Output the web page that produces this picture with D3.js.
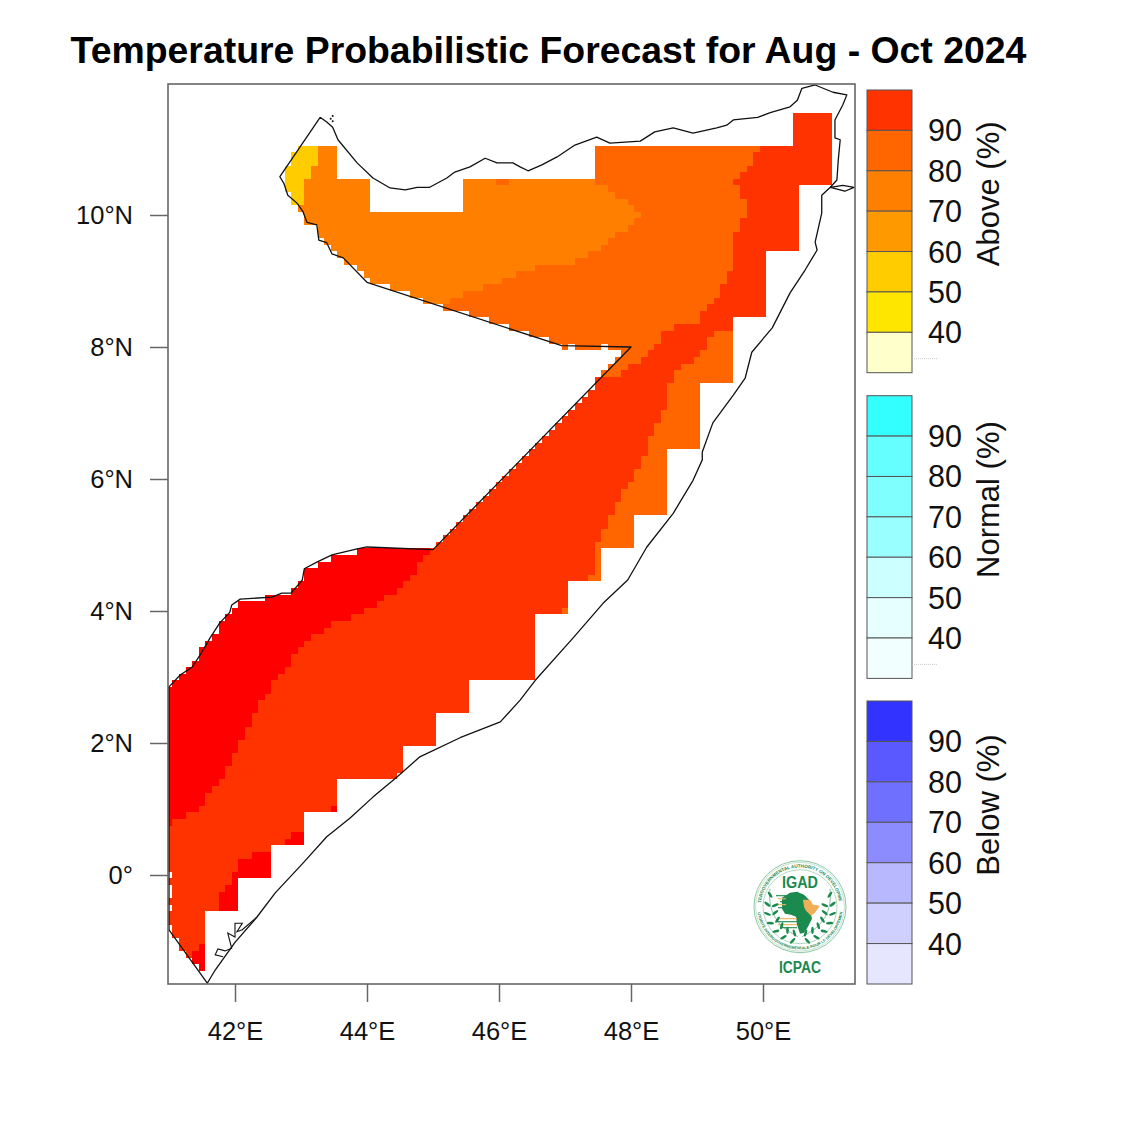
<!DOCTYPE html>
<html><head><meta charset="utf-8">
<script src="https://cdn.jsdelivr.net/npm/d3@7"></script>
<style>html,body{margin:0;padding:0;background:#fff}svg{display:block}text{font-family:"Liberation Sans",Arial,sans-serif}</style>
</head><body><div id="chart"></div>
<script>
const titleText = "Temperature Probabilistic Forecast for Aug - Oct 2024";
const lonTicks = [42,44,46,48,50];
const latTicks = [0,2,4,6,8,10];
const legendLabels = [90,80,70,60,50,40];
const aboveColors = ["#FF3300","#FF6600","#FF8000","#FF9900","#FFCC00","#FFE600","#FFFFCC"];
const normalColors = ["#33FFFF","#66FFFF","#80FFFF","#99FFFF","#CCFFFF","#E6FFFF","#F2FFFF"];
const belowColors = ["#3333FF","#5959FF","#7070FF","#8C8CFF","#B8B8FF","#D0D0FF","#E6E6FF"];
const cellValues = [55,75,85,95,100];
const cellColors = ["#FFCC00","#FF8000","#FF6600","#FF3300","#FF0000"];
// grid: 0.1 degree; column 0 begins at 40.95E, row 0 begins at 11.55N
// each row: column, value, column, value, ... column (value 0 = no data)
const forecastRows = [
[95,95,101],[95,95,101],[95,95,101],[95,95,101],[95,95,101],
[20,55,23,75,26,0,65,85,90,95,101],
[19,55,23,75,26,0,65,85,89,95,101],
[19,55,23,75,26,0,65,85,89,95,101],
[18,55,22,75,26,0,65,85,88,95,101],
[18,55,22,75,26,0,65,85,87,95,101],
[18,55,21,75,31,0,45,75,50,85,52,75,65,85,86,95,101],
[18,55,21,75,31,0,45,75,67,85,87,95,96],
[19,55,21,75,31,0,45,75,68,85,87,95,96],
[19,55,21,75,31,0,45,75,70,85,88,95,96],
[20,75,31,0,45,75,71,85,88,95,96],
[21,75,72,85,88,95,96],
[21,75,71,85,87,95,96],
[23,75,70,85,87,95,96],
[23,75,68,85,86,95,96],
[24,75,67,85,86,95,96],
[25,75,66,85,86,95,96],
[26,75,64,85,86,95,91],
[27,75,62,85,86,95,91],
[29,75,56,85,86,95,91],
[30,75,53,85,85,95,91],
[31,75,51,85,85,95,91],
[34,75,48,85,84,95,91],
[37,75,45,85,84,95,91],
[39,75,43,85,83,95,91],
[42,85,82,95,91],
[46,85,81,95,91],
[49,85,81,95,86],
[52,85,77,95,86],
[55,85,75,95,83,85,86],
[58,85,75,95,82,85,86],
[60,85,61,0,62,85,66,0,67,85,74,95,82,85,86],
[69,85,73,95,81,85,86],
[68,85,72,95,80,85,86],
[67,85,70,95,78,85,86],
[66,85,69,95,77,85,86],
[65,95,77,85,86],
[65,95,76,85,81],[64,95,76,85,81],[63,95,76,85,81],[62,95,76,85,81],
[61,95,75,85,81],[60,95,75,85,81],[59,95,74,85,81],[58,95,74,85,81],
[57,95,73,85,81],[56,95,73,85,81],
[55,95,73,85,76],[54,95,72,85,76],[53,95,72,85,76],[52,95,71,85,76],[51,95,71,85,76],
[50,95,70,85,76],[49,95,69,85,76],[48,95,69,85,76],[47,95,68,85,76],[46,95,68,85,76],
[45,95,67,85,71],[44,95,67,85,71],[43,95,66,85,71],[42,95,66,85,71],[41,95,65,85,71],
[29,100,40,95,65,85,66],
[25,100,39,95,65,85,66],
[23,100,38,95,65,85,66],
[21,100,38,95,65,85,66],
[21,100,37,95,64,85,66],
[20,100,36,95,61],
[19,100,35,95,61],
[15,100,33,95,61],
[11,100,32,95,61],
[10,100,30,95,60,85,61],
[9,100,28,95,56],[8,100,25,95,56],[8,100,24,95,56],[7,100,22,95,56],[6,100,21,95,56],
[5,100,20,95,56],[5,100,19,95,56],[4,100,19,95,56],[3,100,18,95,56],[2,100,17,95,56],
[1,100,16,95,46],[0,100,16,95,46],[0,100,15,95,46],[0,100,14,95,46],[0,100,14,95,46],
[0,100,13,95,41],[0,100,13,95,41],[0,100,12,95,41],[0,100,12,95,41],[0,100,11,95,41],
[0,100,11,95,36],[0,100,10,95,36],[0,100,10,95,36],[0,100,9,95,36],[0,100,9,95,35],
[0,100,8,95,26],[0,100,7,95,26],[0,100,6,95,26],[0,100,6,95,26],[0,100,5,95,25,100,26],
[0,100,3,95,21],[0,100,1,95,21],[0,95,21],[0,95,19,100,21],[0,95,18,100,21],
[0,95,16],[0,95,13,100,16],[0,95,11,100,16],[0,95,11,100,16],[1,95,10,100,16],
[0,95,10,100,11],[1,95,9,100,11],[1,95,8,100,11],[0,95,8,100,11],[1,95,8,100,11],
[0,95,6],[0,95,6],[1,95,6],[1,95,6],[2,95,6],
[2,95,5,100,6],[3,95,4,100,6],[4,100,6],[5,100,6]
];
const somaliaOutline = [
[43.29,11.48],[42.68,10.58],[42.74,10.48],[42.80,10.30],[42.94,10.18],[43.03,10.05],[43.09,9.89],[43.24,9.85],[43.27,9.62],[43.39,9.58],[43.47,9.41],[43.64,9.35],[44.00,8.98],
[46.95,8.02],[48.00,8.00],[45.00,4.93],[44.00,4.97],[43.85,4.94],[43.47,4.85],[43.24,4.74],[43.05,4.64],[43.02,4.47],[42.85,4.27],[42.71,4.27],[42.56,4.21],[42.08,4.18],[41.95,4.09],[41.92,3.98],[41.77,3.82],[41.62,3.59],[41.47,3.33],[41.35,3.15],[41.17,3.03],[41.00,2.85],
[41.00,-0.83],[41.58,-1.64],[41.70,-1.44],[42.00,-1.02],[42.33,-0.64],[42.61,-0.27],[43.03,0.18],[43.39,0.58],[43.74,0.86],[44.09,1.18],[44.45,1.48],[44.80,1.79],[45.41,2.08],[46.02,2.32],[46.32,2.65],[46.55,2.95],[47.12,3.59],[47.58,4.12],[47.95,4.47],[48.24,4.97],[48.64,5.48],[48.94,5.98],[49.08,6.29],[49.08,6.41],[49.24,6.85],[49.55,7.27],[49.73,7.53],[49.83,7.92],[50.14,8.29],[50.41,8.82],[50.64,9.17],[50.82,9.47],[50.79,9.59],[50.89,10.03],[50.89,10.30],[51.02,10.42],
[51.21,10.45],[51.38,10.42],[51.24,10.36],[51.02,10.42],[51.12,10.53],[51.14,10.83],[51.17,11.14],[51.09,11.17],[51.09,11.44],[51.21,11.67],[51.27,11.82],[51.06,11.86],[50.79,11.97],[50.59,11.92],[50.52,11.74],[50.41,11.64],[50.11,11.55],[49.92,11.48],[49.55,11.44],[49.45,11.36],[49.30,11.32],[48.94,11.24],[48.64,11.32],[48.36,11.26],[48.14,11.12],[47.68,11.09],[47.48,11.18],[47.15,11.06],[46.88,10.88],[46.65,10.76],[46.44,10.67],[46.32,10.73],[46.21,10.79],[45.97,10.79],[45.79,10.86],[45.56,10.73],[45.33,10.65],[45.21,10.56],[44.95,10.42],[44.76,10.42],[44.58,10.38],[44.35,10.41],[44.09,10.56],[43.85,10.79],[43.56,11.14],[43.48,11.33],[43.39,11.41],[43.29,11.48]
];
const bajuniIslands = [[41.82,-1.24],[41.70,-1.21],[41.74,-1.12],[41.85,-1.15],[41.95,-1.11],[41.89,-0.88],[42.00,-0.94],[42.00,-0.73],[42.11,-0.73],[42.03,-0.86],[42.11,-0.83],[42.33,-0.64]];
const northIslets = [[43.48,11.50],[43.48,11.42],[43.45,11.46]];

const W=1125,H=1125;
const svg=d3.select("#chart").append("svg").attr("width",W).attr("height",H);
const x=d3.scaleLinear().domain([42,50]).range([235,763]);
const y=d3.scaleLinear().domain([0,10]).range([875,215]);
const frame={l:168,r:855,t:84,b:984};
const color=d3.scaleOrdinal().domain(cellValues).range(cellColors);

svg.append("text").attr("x",548.5).attr("y",63).attr("text-anchor","middle").attr("font-weight","bold").attr("font-size",37.4).attr("fill","#000").text(titleText);

svg.append("clipPath").attr("id","mapclip").append("rect").attr("x",frame.l).attr("y",frame.t).attr("width",frame.r-frame.l).attr("height",frame.b-frame.t);
const map=svg.append("g").attr("clip-path","url(#mapclip)");
const runs=[];
forecastRows.forEach((row,j)=>{for(let k=0;k+2<row.length;k+=2){if(row[k+1]>0)runs.push({j,a:row[k],v:row[k+1],b:row[k+2]});}});
const lonOf=i=>40.95+0.1*i, latOf=j=>11.55-0.1*j;
map.selectAll("rect.cell").data(runs).join("rect").attr("class","cell")
 .attr("x",d=>x(lonOf(d.a))).attr("width",d=>x(lonOf(d.b))-x(lonOf(d.a)))
 .attr("y",d=>y(latOf(d.j))).attr("height",d=>y(latOf(d.j+1))-y(latOf(d.j)))
 .attr("fill",d=>color(d.v)).attr("shape-rendering","crispEdges");
const line=d3.line().x(d=>x(d[0])).y(d=>y(d[1]));
map.append("path").attr("d",line(somaliaOutline)).attr("fill","none").attr("stroke","#111").attr("stroke-width",1.3).attr("stroke-linejoin","round");
map.append("path").attr("d",line(bajuniIslands)).attr("fill","none").attr("stroke","#111").attr("stroke-width",1.1);
map.selectAll("circle.islet").data(northIslets).join("circle").attr("class","islet").attr("cx",d=>x(d[0])).attr("cy",d=>y(d[1])).attr("r",1).attr("fill","#111");

const axStyle=g=>{g.select(".domain").remove();g.selectAll(".tick line").attr("stroke","#666").attr("stroke-width",1.5);g.selectAll("text").attr("font-size",25.5).attr("fill","#111").attr("font-family","Liberation Sans");};
svg.append("g").attr("transform",`translate(${frame.l},0)`).call(d3.axisLeft(y).tickValues(latTicks).tickSize(18).tickPadding(17).tickFormat(d=>d===0?"0°":d+"°N")).call(axStyle);
svg.append("g").attr("transform",`translate(0,${frame.b})`).call(d3.axisBottom(x).tickValues(lonTicks).tickSize(18).tickPadding(20).tickFormat(d=>d+"°E")).call(axStyle);
svg.append("rect").attr("x",frame.l).attr("y",frame.t).attr("width",frame.r-frame.l).attr("height",frame.b-frame.t).attr("fill","none").attr("stroke","#666").attr("stroke-width",1.6);

function legend(colors,title,top,bottom,mark){
 const band=d3.scaleBand().domain(d3.range(colors.length)).range([top,bottom]);
 const g=svg.append("g");
 g.selectAll("rect").data(colors).join("rect").attr("x",867).attr("width",45).attr("y",(d,i)=>band(i)).attr("height",band.bandwidth()).attr("fill",d=>d).attr("stroke","#555").attr("stroke-width",1);
 g.selectAll("text.l").data(legendLabels).join("text").attr("class","l").attr("x",928).attr("y",(d,i)=>band(i+1)+11).attr("font-size",30.5).attr("fill","#111").text(d=>d);
 g.append("text").attr("transform",`translate(999,${(top+bottom)/2-37.5}) rotate(-90)`).attr("text-anchor","middle").attr("font-size",31).attr("fill","#111").text(title);
 if(mark) g.append("line").attr("x1",912).attr("x2",937).attr("y1",bottom-14).attr("y2",bottom-14).attr("stroke","#bbb").attr("stroke-width",0.8).attr("stroke-dasharray","1 1");
}
legend(aboveColors,"Above (%)",90,372.7,true);
legend(normalColors,"Normal (%)",395.7,678.4,true);
legend(belowColors,"Below (%)",701,984,false);

// ICPAC logo
const lg=svg.append("g").attr("transform","translate(800,906.7)");
const gc="#1A8A4E", ring="#8CC7A3", or="#F0AE56";
lg.append("circle").attr("r",46).attr("fill","#fff").attr("stroke",ring).attr("stroke-width",1);
lg.append("circle").attr("r",44.4).attr("fill","none").attr("stroke",ring).attr("stroke-width",.5);
lg.append("circle").attr("r",37).attr("fill","none").attr("stroke",ring).attr("stroke-width",.7);
const defs=svg.append("defs");
defs.append("path").attr("id","arcTop").attr("d","M-39,-4 A39.2,39.2 0 0 1 39,-4");
defs.append("path").attr("id","arcBot").attr("d","M-42.5,5 A42.8,42.8 0 0 0 42.5,5");
lg.append("text").attr("font-size",4.6).attr("font-weight","bold").attr("fill",gc).attr("text-anchor","middle").append("textPath").attr("href","#arcTop").attr("startOffset","50%").text("INTERGOVERNMENTAL AUTHORITY ON DEVELOPMENT");
lg.append("text").attr("font-size",3.9).attr("font-weight","bold").attr("fill",gc).attr("text-anchor","middle").append("textPath").attr("href","#arcBot").attr("startOffset","50%").text("AUTORITÉ INTERGOUVERNEMENTALE POUR LE DÉVELOPPEMENT");
lg.append("text").attr("x",0).attr("y",-18.7).attr("text-anchor","middle").attr("font-size",16).attr("font-weight","bold").attr("fill",gc).attr("textLength",36).attr("lengthAdjust","spacingAndGlyphs").text("IGAD");
lg.append("text").attr("x",0).attr("y",66).attr("text-anchor","middle").attr("font-size",16).attr("font-weight","bold").attr("fill",gc).attr("textLength",42).attr("lengthAdjust","spacingAndGlyphs").text("ICPAC");
lg.append("path").attr("fill",gc).attr("d","M-18,-9 L-10,-14 L-3,-15 L4,-12 L9,-7 L6,2 L11,8 L12,12 L8,20 L4,26 L0,27 L-3,18 L-4,10 L-9,8 L-15,7 L-18,2 Z");
lg.append("path").attr("fill",or).attr("d","M3,-7 L10,-7 L13,-2 L20,-1 L15,6 L11,9 L6,4 L4,0 Z");
[-11,-8,-5,-2,1,12,15,18,21].forEach((v,i)=>lg.append("line").attr("x1",-24+i%3*2).attr("x2",v<5?-14:-3).attr("y1",v).attr("y2",v).attr("stroke",i%2?or:gc).attr("stroke-width",1.1));
[-1,1].forEach(s=>{
 d3.range(7).forEach(k=>{
  const deg=65+k*17, a=deg*Math.PI/180;
  const r1=33, r2=25;
  const p1=[s*Math.sin(a)*r1,-Math.cos(a)*r1+2], p2=[s*Math.sin(a)*r2,-Math.cos(a)*r2+2];
  lg.append("ellipse").attr("cx",p1[0]).attr("cy",p1[1]).attr("rx",1.3).attr("ry",3.6).attr("fill",gc).attr("transform",`rotate(${s*(deg-30)},${p1[0]},${p1[1]})`);
  if(k>0) lg.append("ellipse").attr("cx",p2[0]).attr("cy",p2[1]).attr("rx",1.3).attr("ry",3.6).attr("fill",gc).attr("transform",`rotate(${s*(deg+30)},${p2[0]},${p2[1]})`);
 });
 lg.append("path").attr("d",`M${s*30},-18 Q${s*34},15 ${s*2},30`).attr("fill","none").attr("stroke",gc).attr("stroke-width",.5);
});
</script></body></html>
